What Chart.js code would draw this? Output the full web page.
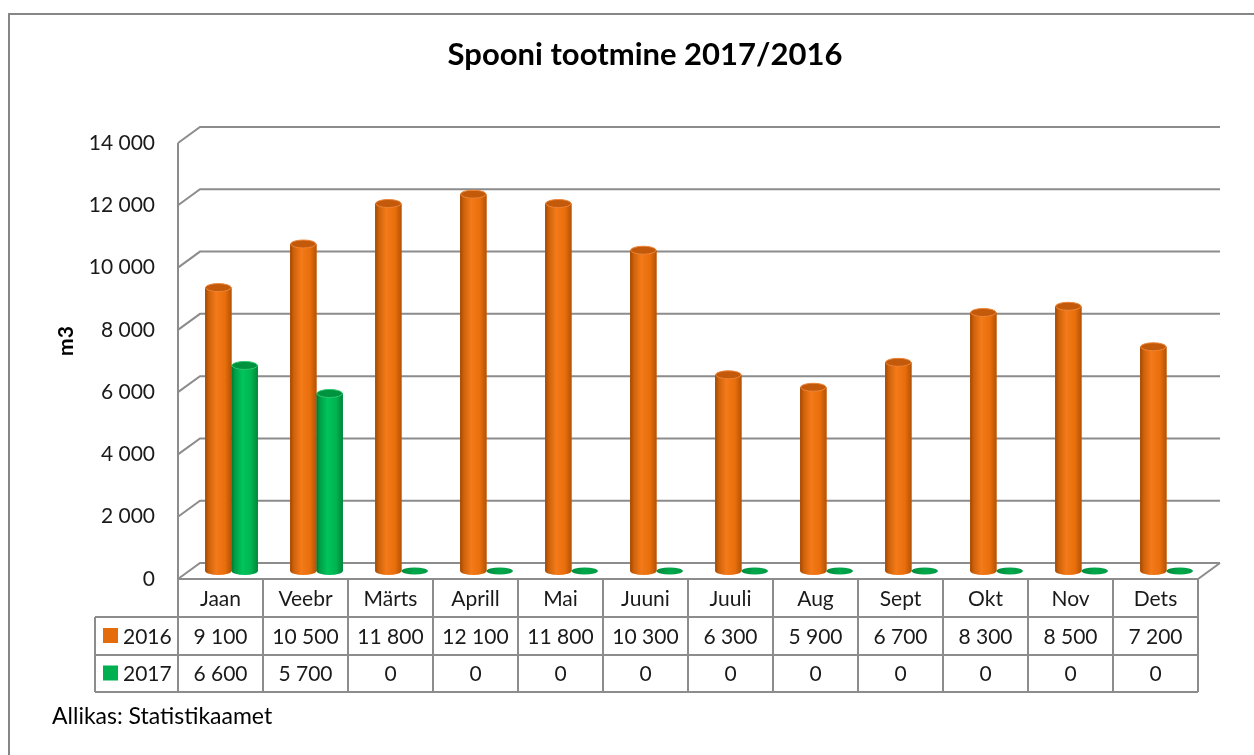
<!DOCTYPE html>
<html>
<head>
<meta charset="utf-8">
<script src="https://cdn.jsdelivr.net/npm/chart.js@4.4.1/dist/chart.umd.min.js"></script>
<style>
  html, body { margin: 0; padding: 0; background: #ffffff; }
  #wrap { width: 1254px; height: 755px; position: relative; }
</style>
</head>
<body>
<div id="wrap"><canvas id="c" width="1254" height="755"></canvas></div>
<script>
const chartTitle = 'Spooni tootmine 2017/2016';
const yAxisTitle = 'm3';
const sourceText = 'Allikas: Statistikaamet';
const categories = ['Jaan', 'Veebr', 'Märts', 'Aprill', 'Mai', 'Juuni', 'Juuli', 'Aug', 'Sept', 'Okt', 'Nov', 'Dets'];
const seriesLabels = ['2016', '2017'];
const values2016 = [9100, 10500, 11800, 12100, 11800, 10300, 6300, 5900, 6700, 8300, 8500, 7200];
const values2017 = [6600, 5700, 0, 0, 0, 0, 0, 0, 0, 0, 0, 0];
const yMin = 0;
const yMax = 14000;
const yStep = 2000;

const FONT = 'Lato, "Open Sans", sans-serif';
const TXT = '#1a1a1a';
const LINE = '#8c8c8c';
const BACK = { dx: 22, dy: -16 };   // back wall offset
const MID = { dx: 11, dy: -8 };     // bars stand at mid depth

function fmt(v) {
  return String(v).replace(/\B(?=(\d{3})+(?!\d))/g, ' ');
}

const palettes = [
  { base: '#E46C0A', stops: ['#a04805', '#cf620a', '#f47a1a', '#e96f0c', '#b35206'], top: '#c2590b', rim: '#ee8436' },
  { base: '#00B050', stops: ['#007833', '#00a048', '#00c55c', '#00b351', '#008539'], top: '#00933f', rim: '#2cc86d' }
];

const frame3d = {
  id: 'frame3d',
  beforeDraw(chart) {
    const ctx = chart.ctx;
    const a = chart.chartArea;
    const ys = chart.scales.y;
    ctx.save();
    ctx.fillStyle = '#ffffff';
    ctx.fillRect(0, 0, chart.width, chart.height);
    ctx.strokeStyle = '#868686';
    ctx.lineWidth = 2;
    ctx.beginPath();
    ctx.moveTo(9, chart.height + 5);
    ctx.lineTo(9, 14);
    ctx.lineTo(chart.width + 5, 14);
    ctx.stroke();
    ctx.strokeStyle = LINE;
    ctx.lineWidth = 2;
    ys.ticks.forEach(t => {
      const fy = ys.getPixelForValue(t.value);
      ctx.beginPath();
      ctx.moveTo(a.left, fy);
      ctx.lineTo(a.left + BACK.dx, fy + BACK.dy);
      ctx.lineTo(a.right + BACK.dx, fy + BACK.dy);
      ctx.stroke();
    });
    ctx.beginPath();
    ctx.moveTo(a.left, ys.getPixelForValue(yMax));
    ctx.lineTo(a.left, a.bottom);
    ctx.stroke();
    ctx.beginPath();
    ctx.moveTo(a.left, a.bottom);
    ctx.lineTo(a.right, a.bottom);
    ctx.lineTo(a.right + BACK.dx, a.bottom + BACK.dy);
    ctx.stroke();
    ctx.restore();
  },
  beforeDatasetsDraw(chart) {
    chart.ctx.save();
    chart.ctx.translate(MID.dx, MID.dy);
  },
  afterDatasetsDraw(chart) {
    const ctx = chart.ctx;
    const ry = 4;
    chart.data.datasets.forEach((ds, di) => {
      const meta = chart.getDatasetMeta(di);
      const pal = palettes[di];
      meta.data.forEach((el, i) => {
        const p = el.getProps(['x', 'y', 'base', 'width'], true);
        const rx = p.width / 2;
        const left = p.x - rx, right = p.x + rx;
        if (ds.data[i] === 0) {
          const g = ctx.createLinearGradient(left, 0, right, 0);
          g.addColorStop(0, '#008a3c');
          g.addColorStop(0.5, '#00a84a');
          g.addColorStop(1, '#009a44');
          ctx.fillStyle = g;
          ctx.beginPath();
          ctx.ellipse(p.x, p.base, rx, ry - 0.5, 0, 0, Math.PI * 2);
          ctx.fill();
          return;
        }
        const g = ctx.createLinearGradient(left, 0, right, 0);
        const pos = [0, 0.14, 0.42, 0.75, 1];
        pal.stops.forEach((c, k) => g.addColorStop(pos[k], c));
        ctx.fillStyle = g;
        ctx.beginPath();
        ctx.moveTo(left, p.y);
        ctx.lineTo(left, p.base);
        ctx.ellipse(p.x, p.base, rx, ry, 0, Math.PI, 0, true);
        ctx.lineTo(right, p.y);
        ctx.closePath();
        ctx.fill();
        ctx.beginPath();
        ctx.ellipse(p.x, p.y, rx - 0.5, ry, 0, 0, Math.PI * 2);
        ctx.fillStyle = pal.top;
        ctx.fill();
        ctx.strokeStyle = pal.rim;
        ctx.lineWidth = 1;
        ctx.stroke();
      });
    });
    ctx.restore();
  },
  afterDraw(chart) {
    const ctx = chart.ctx;
    const a = chart.chartArea;
    const xs = chart.scales.x;
    ctx.save();
    ctx.fillStyle = '#000000';
    ctx.font = 'bold 31px ' + FONT;
    ctx.textAlign = 'center';
    ctx.textBaseline = 'middle';
    ctx.fillText(chartTitle, 645, 55);
    ctx.save();
    ctx.translate(66, 341);
    ctx.rotate(-Math.PI / 2);
    ctx.font = 'bold 21px ' + FONT;
    ctx.fillStyle = '#000000';
    ctx.fillText(yAxisTitle, 0, 0);
    ctx.restore();
    const step = xs.getPixelForValue(1) - xs.getPixelForValue(0);
    const bounds = [];
    for (let i = 0; i <= categories.length; i++) bounds.push(xs.getPixelForValue(i) - step / 2);
    const r0 = a.bottom, r1 = r0 + 38, r2 = r1 + 38, r3 = r2 + 37;
    const legLeft = 95;
    ctx.strokeStyle = LINE;
    ctx.lineWidth = 2;
    ctx.beginPath();
    bounds.forEach(x => { ctx.moveTo(x, r0); ctx.lineTo(x, r3); });
    ctx.moveTo(legLeft, r1); ctx.lineTo(legLeft, r3);
    [r1, r2, r3].forEach(y => { ctx.moveTo(legLeft, y); ctx.lineTo(bounds[bounds.length - 1], y); });
    ctx.stroke();
    ctx.fillStyle = TXT;
    ctx.font = '21px ' + FONT;
    ctx.textAlign = 'center';
    ctx.textBaseline = 'middle';
    categories.forEach((c, i) => {
      const cx = xs.getPixelForValue(i);
      ctx.fillText(c, cx, (r0 + r1) / 2 + 1);
      ctx.fillText(fmt(values2016[i]), cx, (r1 + r2) / 2 + 1);
      ctx.fillText(fmt(values2017[i]), cx, (r2 + r3) / 2 + 1);
    });
    [[r1, r2], [r2, r3]].forEach((rr, k) => {
      const my = (rr[0] + rr[1]) / 2;
      ctx.fillStyle = palettes[k].base;
      ctx.fillRect(103, my - 8, 15, 15);
      ctx.fillStyle = TXT;
      ctx.textAlign = 'left';
      ctx.fillText(seriesLabels[k], 123, my + 1);
    });
    ctx.textAlign = 'left';
    ctx.fillStyle = '#000000';
    ctx.font = '23px ' + FONT;
    ctx.fillText(sourceText, 52, 717);
    ctx.restore();
  }
};

new Chart(document.getElementById('c'), {
  type: 'bar',
  data: {
    labels: categories,
    datasets: [
      { label: seriesLabels[0], data: values2016, backgroundColor: palettes[0].base, borderWidth: 0 },
      { label: seriesLabels[1], data: values2017, backgroundColor: palettes[1].base, borderWidth: 0 }
    ]
  },
  options: {
    responsive: false,
    animation: false,
    events: [],
    categoryPercentage: 0.62,
    barPercentage: 1.0,
    layout: { padding: { left: 0, right: 56, top: 143, bottom: 176 } },
    plugins: { legend: { display: false }, title: { display: false }, tooltip: { enabled: false } },
    scales: {
      x: { display: false, offset: true },
      y: {
        min: yMin, max: yMax,
        afterFit(s) { s.width = 178; },
        grid: { display: false, drawTicks: false },
        border: { display: false },
        ticks: {
          stepSize: yStep,
          padding: 23,
          color: TXT,
          font: { family: FONT, size: 21 },
          callback: v => fmt(v)
        }
      }
    }
  },
  plugins: [frame3d]
});
</script>
</body>
</html>
